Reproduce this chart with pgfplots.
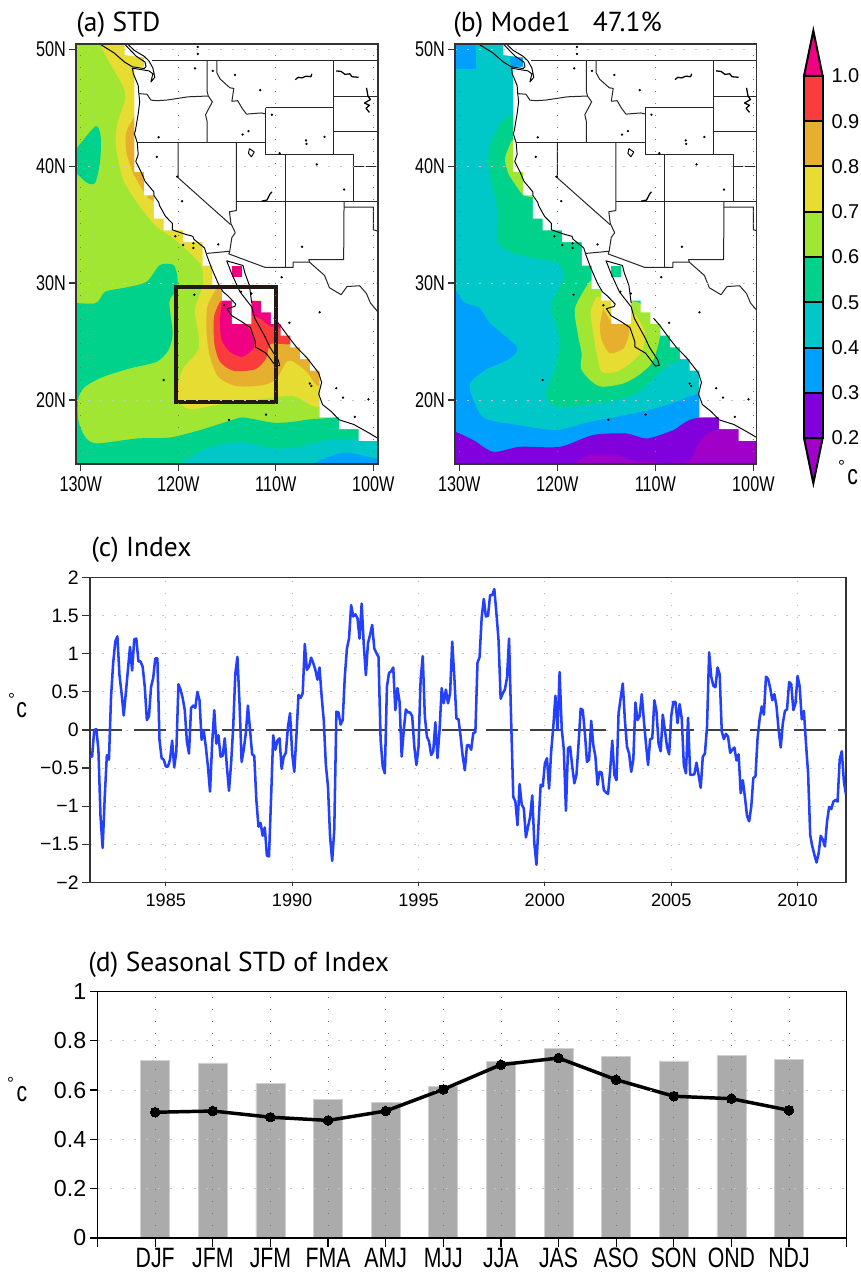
\documentclass[border=0pt]{standalone}
\usepackage{pgfplots}
\pgfplotsset{compat=1.18}
\usepackage{fontspec}
\setmainfont{PT Sans}
\newfontfamily\tickf{Liberation Sans}
\newfontfamily\mapf[FakeStretch=0.76]{Liberation Sans}
\newfontfamily\dtick[FakeStretch=0.76]{Liberation Sans}
\definecolor{cA}{HTML}{A000C8}\definecolor{cB}{HTML}{8200DC}\definecolor{cC}{HTML}{00A0FF}
\definecolor{cD}{HTML}{00C8C8}\definecolor{cE}{HTML}{00D28C}\definecolor{cF}{HTML}{A0E632}
\definecolor{cG}{HTML}{E6DC32}\definecolor{cH}{HTML}{E6AF2D}\definecolor{cI}{HTML}{FA3C3C}
\definecolor{cJ}{HTML}{F00082}\definecolor{frame}{HTML}{333333}\definecolor{boxc}{HTML}{231815}
\definecolor{line}{HTML}{2440FF}\definecolor{barc}{HTML}{ABABAB}
\newcommand\fs[1]{\fontsize{#1}{#1}\selectfont}
\pgfplotsset{
 base/.style={scale only axis,axis on top,clip=true,tick pos=left,
  axis line style={draw=frame,line width=1.1pt},
  tick style={draw=frame,line width=0.9pt},tick align=outside,
  major tick length=5pt,minor tick length=0pt,
  grid=major,
  x grid style={draw=black!55,line width=0.6pt,dash pattern=on 0.8pt off 8.2pt},
  y grid style={draw=black!22,line width=0.6pt,dash pattern=on 1.8pt off 7.2pt},
  scaled ticks=false},
 map/.style={base,width=226.5pt,height=315pt,xmin=-130.48,ymin=14.52,ymax=50.45,
  xtick={-130,-120,-110,-100},xticklabels={130W,120W,110W,100W},
  ytick={20,30,40,50},yticklabels={20N,30N,40N,50N},
  tick label style={font=\mapf\fs{16pt}},
  xticklabel style={yshift=-1pt},yticklabel style={xshift=1pt}},
 zone/.style={fill=#1,draw=none,smooth,tension=0.45,forget plot},
 flat/.style={fill=#1,draw=none,forget plot},
 geo/.style={draw=black,line width=0.72pt,forget plot,line join=round},
 st/.style={draw=black!85,line width=0.75pt,forget plot,line join=round}}
\newcommand\basemap{%
 \addplot[flat=white] coordinates {(-125.5,51) (-125.5,49.5) (-123.5,49.3) (-123.5,48.5) (-124.5,48.5) (-124.5,39.5) (-123.5,39.5) (-123.5,37.5) (-122.5,37.5) (-122.5,35.5) (-121.5,35.5) (-121.5,34.5) (-119.5,34.5) (-119.5,33.5) (-117.5,33.5) (-117.5,31.5) (-116.5,31.5) (-116.5,29.5) (-115.5,29.5) (-115.5,28.5) (-114.5,28.5) (-114.5,26.5) (-112.5,26.5) (-112.5,28.5) (-111.5,28.5) (-111.5,27.5) (-110.5,27.5) (-110.5,26.5) (-109.5,26.5) (-109.5,25.5) (-108.5,25.5) (-108.5,24.5) (-107.5,24.5) (-107.5,23.5) (-106.5,23.5) (-106.5,22.5) (-105.5,22.5) (-105.5,18.5) (-103.5,18.5) (-103.5,17.5) (-101.5,17.5) (-101.5,16.5) (-99,16.5) (-99,51)} --cycle;
}
\newcommand\geolines{%
 % Vancouver Island
 \addplot[geo] coordinates {(-127.95,50.4) (-126.6,49.7) (-125.5,48.9) (-124.7,48.5) (-123.5,48.35) (-123.3,48.5) (-123.4,48.9) (-124.3,49.4) (-125,50) (-125.5,50.45)};
 % coast, Canada to Baja
 \addplot[geo] coordinates {(-125.2,50.45) (-124.5,49.9) (-123.5,49.4) (-123,49) (-122.6,48.4) (-122.4,47.6) (-122.8,47.2) (-122.6,47.9) (-123,48.15) (-124.7,48.38) (-124.6,47.9) (-124.1,46.9) (-124.05,46.3) (-123.95,45.5) (-124.1,44.5) (-124.4,43) (-124.5,42.8) (-124.2,42) (-124.1,41) (-124.35,40.4) (-123.8,39.5) (-123.4,38.7) (-122.5,37.8) (-122.5,37.5) (-122,36.9) (-121.9,36.6) (-121.3,35.7) (-120.6,35.1) (-120.6,34.55) (-119.2,34.15) (-118.5,34) (-118.4,33.75) (-117.3,33) (-117.08,32.39) (-116.57,31.25) (-115.9,29.97) (-115.4,29.25) (-114.9,28.9) (-114.1,28.2) (-114.2,28) (-115,27.8) (-114.5,27.2) (-113.5,26.7) (-112.6,26.2) (-112.1,25) (-112.1,24.54) (-111,24) (-110,22.9) (-109.6,22.95) (-109.74,23.4) (-110.6,24.5) (-111.1,25.4) (-112.14,26.97) (-112.47,27.96) (-113.67,29.25) (-114.52,30.8) (-115.03,31.9) (-113.36,31.5) (-113.16,30.85) (-112.7,29.8) (-112.47,28.3)};
 % coast, Sinaloa to Guerrero
 \addplot[geo] coordinates {(-110.2,27) (-109.57,26.4) (-108.7,25.4) (-107.86,24.5) (-106.8,23.6) (-105.6,22.3) (-105.3,21.5) (-105.6,20.5) (-105.2,19.6) (-104.3,19) (-103.5,18.3) (-102,17.9) (-100.5,17.2) (-99.5,16.7)};
 % borders
 \addplot[st] coordinates {(-122.7,49) (-99,49)};
 \addplot[st] coordinates {(-124,46.2) (-123.2,46.15) (-122.8,45.65) (-122.2,45.6) (-121.2,45.65) (-120,45.8) (-119,45.93) (-116.92,46)};
 \addplot[st] coordinates {(-117.04,49) (-117.04,46.4) (-116.92,46) (-116.5,45.5) (-117.2,44.4) (-117.03,43.8) (-117.03,42)};
 \addplot[st] coordinates {(-124.2,42) (-111.05,42)};
 \addplot[st] coordinates {(-120,42) (-120,39) (-114.63,35)};
 \addplot[st] coordinates {(-114.04,42) (-114.04,36.2) (-114.75,36.1) (-114.6,35.1) (-114.15,34.3) (-114.5,33.9) (-114.72,32.72)};
 \addplot[st] coordinates {(-117.12,32.53) (-114.72,32.72) (-114.81,32.49) (-111.07,31.33) (-108.21,31.33) (-108.21,31.78) (-106.53,31.78) (-105,30.65) (-104.5,29.6) (-103.3,29) (-102.7,29.7) (-101.4,29.77) (-100.7,29.1) (-100.3,28.3) (-99.5,27.5)};
 \addplot[st] coordinates {(-116.05,49) (-116.05,48) (-115.7,47.45) (-114.7,46.7) (-114.3,46.65) (-114.5,45.55) (-113.9,45.6) (-113.45,44.95) (-113,44.45) (-111.5,44.55) (-111.05,44.47)};
 \addplot[st] coordinates {(-111.05,45) (-104.05,45)};
 \addplot[st] coordinates {(-111.05,45) (-111.05,41) (-102.05,41)};
 \addplot[st] coordinates {(-104.05,49) (-104.05,41)};
 \addplot[st] coordinates {(-109.05,41) (-109.05,31.33)};
 \addplot[st] coordinates {(-114.04,37) (-99,37)};
 \addplot[st] coordinates {(-102.05,41) (-102.05,37)};
 \addplot[st] coordinates {(-103,37) (-103.04,32) (-106.62,32) (-106.53,31.78)};
 \addplot[st] coordinates {(-103,36.5) (-100,36.5) (-100,34.56) (-99.4,34.4)};
 \addplot[st] coordinates {(-104.05,45.94) (-99,45.94)};
 \addplot[st] coordinates {(-104.05,43) (-99,43)};
 \addplot[st] coordinates {(-102.05,40) (-99,40)};
 % rivers and lakes
 \addplot[geo,line width=0.95pt] coordinates {(-108,47.4) (-107.7,47.6) (-107.3,47.55) (-106.9,47.7) (-106.4,47.65) (-106.3,47.9)};
 \addplot[geo,line width=0.95pt] coordinates {(-103.8,48.15) (-103.3,48.1) (-102.9,47.85) (-102.4,47.9) (-102.2,47.65) (-101.5,47.6)};
 \addplot[geo,line width=0.95pt] coordinates {(-100.7,46.7) (-100.55,46) (-100.3,45.7) (-100.9,45.4) (-100.4,45.2) (-100.75,44.95) (-100.4,44.6)};
 \addplot[geo,line width=0.95pt] coordinates {(-111.45,37) (-110.9,37.1) (-110.6,37.6) (-110.4,37.8)};
 \addplot[geo] coordinates {(-112.7,41.5) (-112.2,41.2) (-112.5,40.8) (-112.8,41.1) (-112.7,41.5)};
 \addplot[only marks,mark=*,mark size=0.65pt,draw=black,fill=black,forget plot] coordinates {(-118,50.2) (-118,49.6) (-118.28,48.37) (-116.47,48.15) (-114.18,47.8) (-111.6,46.5) (-122,42.47) (-122.2,40.8) (-110.4,44.4) (-112.8,43) (-106.9,42.2) (-106.85,41.9) (-105,42.5) (-113.4,42.7) (-109.6,41.1) (-105.8,40.15) (-103,38) (-120.1,39.1) (-119.6,37) (-115.9,33.3) (-107.3,33.1) (-109.4,30.5) (-105.5,27.5) (-108.6,26.6) (-103.8,21) (-103.1,20.2) (-100.5,20.05) (-101.9,18.55) (-118.35,29) (-115.3,28.1) (-121.5,21.7) (-111,18.75) (-114.8,18.3) (-106.5,21.4) (-106.35,21.2) (-120.3,34) (-119.5,33.25) (-118.45,33) (-118.45,33.4) (-113.57,29.26) (-112.5,29.1)};
}
\begin{document}
\begin{tikzpicture}
\useasboundingbox (0,0) rectangle (645.75pt,954pt);
% ---------------- (a)
\begin{axis}[map,at={(57pt,606pt)},anchor=south west,xmax=-99.52]
 \addplot[flat=cF] coordinates {(-131,14) (-99,14) (-99,51) (-131,51)} --cycle;
 \addplot[zone=cE] coordinates {(-130.9,41) (-128.5,43.4) (-127.95,42.5) (-128,40.5) (-128.5,38.6) (-129.4,38.6) (-130.9,39.8)};
 \addplot[zone=cE] coordinates {(-132,28.4) (-128.53,28.26) (-127.5,29.26) (-125.29,29.63) (-123.24,30.11) (-121.87,31.54) (-120.5,31.54) (-120.09,30.54) (-120.16,29.4) (-120.91,28.4) (-120.57,25.69) (-121.01,24.26) (-122.21,23.27) (-124.94,22.7) (-127.68,21.98) (-129.56,21.13) (-130.24,20.13) (-130.24,18.27) (-129.56,16.85) (-128.36,16.28) (-124.26,16.7) (-120.84,16.79) (-117.77,17.42) (-114.69,18.22) (-113.33,18.5) (-110.25,18.05) (-108.2,18.13) (-105.47,18.4) (-97,18.4) (-97,12) (-132,12)};
 \addplot[zone=cD] coordinates {(-122,13) (-120,14.5) (-117.09,15.85) (-113.67,16.42) (-110.25,15.85) (-107.52,15.99) (-104.79,16.56) (-101.37,16.7) (-97,16.6) (-97,13)};
 \addplot[zone=cC] coordinates {(-108,13.5) (-106.32,14.5) (-103.08,15.48) (-99.56,15) (-97,15) (-97,13)};
 \addplot[zone=cG] coordinates {(-128.5,52) (-128.02,50.46) (-127,48.8) (-125.63,46.8) (-125.46,45.66) (-126.24,43.67) (-126.38,41.67) (-125.63,38.82) (-123.92,36.53) (-122.21,34.82) (-120.5,33.82) (-117.77,31.68) (-117.43,29.97) (-117.6,29.46) (-118.28,27.69) (-117.94,25.69) (-117.94,24.26) (-119.48,22.7) (-120,21.41) (-120,19.99) (-118.79,19.19) (-116.06,19.56) (-110.94,20.13) (-108.2,20.33) (-105.5,19.41) (-103,22) (-108,29) (-115,36) (-122,46) (-124,52)};
 \addplot[zone=cH] coordinates {(-124.26,44.52) (-124.67,44) (-125.35,42.81) (-125.29,41.1) (-124.53,39.24) (-123.17,37.39) (-122.38,37.1) (-122.2,39) (-123.24,41.38) (-124.26,44.52)};
 \addplot[zone=cH] coordinates {(-116.13,29.46) (-117.02,27.97) (-117.09,25.69) (-116.74,23.69) (-115.89,21.98) (-114.01,21.18) (-111.28,21.27) (-109.91,21.84) (-108.89,23.27) (-108.2,23.27) (-106.84,22.41) (-105.5,21.13) (-103.8,22.84) (-109.91,27.12) (-115.04,29.69) (-116.13,29.46)};
 \addplot[zone=cI] coordinates {(-115.72,28.4) (-116.33,27.12) (-116.3,24.84) (-115.72,23.27) (-114.35,22.5) (-112.13,22.61) (-111,23.55) (-110.53,24.78) (-108.54,24.78) (-108.2,25.69) (-110.25,27.12) (-112.3,28.54) (-114.35,28.83) (-115.72,28.4)};
 \addplot[zone=cJ] coordinates {(-115.48,28.46) (-115.72,26.83) (-115.55,25.12) (-114.69,24.12) (-113.5,23.69) (-112.37,24.32) (-112.2,25.12) (-112.99,26.4) (-114.01,26.83) (-114.35,28.54) (-115.48,28.46)};
 \addplot[flat=cJ] coordinates {(-112.47,28.46) (-112.47,27.26) (-111.62,26.98) (-110.49,26.26) (-109.9,26.4) (-109.5,25.98) (-109.5,26.5) (-110.49,27.46) (-111.5,28.46)} --cycle;
 \basemap
 \addplot[flat=cJ] coordinates {(-114.5,31.5) (-113.5,31.5) (-113.5,30.5) (-114.5,30.5)} --cycle;
 \geolines
 \addplot[draw=boxc,line width=2.8pt,line join=miter,forget plot] coordinates {(-120.23,29.69) (-110.01,29.69) (-110.01,19.84) (-120.23,19.84)} --cycle;
\end{axis}
% ---------------- (b)
\begin{axis}[map,at={(341.25pt,606pt)},anchor=south west,width=226.3pt,xmin=-130.44,xmax=-99.66]
 \addplot[flat=cD] coordinates {(-131,14) (-99,14) (-99,51) (-131,51)} --cycle;
 \addplot[flat=cC] coordinates {(-131,51) (-128.3,51) (-128.3,48.29) (-131,48.29)} --cycle;
 \addplot[flat=cC] coordinates {(-124.83,49.37) (-123.47,49.2) (-123.47,48.37) (-124.7,48.5)} --cycle;
 \addplot[zone=cC] coordinates {(-132,30) (-130.44,29.46) (-129.59,28.4) (-127.89,27.83) (-126.87,26.55) (-124.15,24.55) (-124.83,23.55) (-127.38,22.55) (-128.91,21.41) (-128.57,19.99) (-127.38,18.4) (-123.81,17.83) (-120.07,17.42) (-116.67,18.13) (-112.24,18.84) (-108.84,19.56) (-105.61,20.56) (-103,20.8) (-103,12) (-132,12)};
 \addplot[zone=cE] coordinates {(-124.49,44.52) (-125.85,43.67) (-126.87,41.67) (-127.04,39.96) (-126.36,37.39) (-126.02,35.68) (-126.12,33.54) (-124.49,32.54) (-122.11,32.11) (-119.9,31.68) (-119.39,30.54) (-120.07,29.11) (-120.68,27.97) (-119.9,25.69) (-119.9,23.98) (-120.41,22.27) (-121.16,20.41) (-119.9,19.41) (-114.97,19.84) (-111.9,20.56) (-110.2,21.84) (-108.67,22.98) (-107.55,23.41) (-103.4,25.69) (-110.2,31.4) (-118.71,39.96) (-123.81,44.52) (-124.49,44.52)};
 \addplot[zone=cF] coordinates {(-124.66,42.18) (-125.34,40.67) (-125,39.39) (-124.15,38.25) (-123.47,37.53) (-122.45,37.39) (-122.45,38.25) (-123.81,41.95) (-124.66,42.18)};
 \addplot[zone=cF] coordinates {(-116.84,29.97) (-118.2,27.83) (-117.86,25.41) (-117.52,23.98) (-117.59,22.7) (-116.67,21.7) (-115.48,21.13) (-113.27,21.41) (-111.56,22.21) (-110.2,23.41) (-109.46,26.4) (-111.56,28.26) (-112.59,28.54) (-115.99,30.26) (-116.84,29.97)};
 \addplot[zone=cG] coordinates {(-115.99,28.83) (-116.6,27.55) (-116.33,25.69) (-115.99,23.98) (-115.48,22.41) (-113.95,22.41) (-112.59,23.12) (-111.39,24.12) (-111.05,25.69) (-111.9,27.12) (-113.6,28.54) (-115.99,28.83)};
 \addplot[zone=cH] coordinates {(-115.31,27.83) (-115.65,26.4) (-115.48,25.12) (-114.63,23.98) (-113.27,24.41) (-112.76,25.41) (-112.76,26.4) (-114.46,26.69) (-115.31,27.83)};
 \addplot[zone=cB] coordinates {(-133,17.9) (-130.44,17.28) (-128.57,16.56) (-126.53,15.56) (-123.81,15.99) (-119.73,15.99) (-116.33,17) (-112.93,17.13) (-110.88,16.7) (-108.16,17.42) (-105.61,18.47) (-97,18.47) (-97,12) (-133,12)};
 \addplot[zone=cA] coordinates {(-120.5,13.5) (-118.54,14.48) (-116.67,15.28) (-113.95,15.28) (-111.56,14.71) (-106.8,14.71) (-105.78,15.99) (-104.42,17.28) (-101.7,17.42) (-97,16.56) (-97,13)};
 \basemap
 \addplot[flat=cE] coordinates {(-114.5,31.5) (-113.5,31.5) (-113.5,30.5) (-114.5,30.5)} --cycle;
 \geolines
\end{axis}
% ---------------- colour bar
\begin{axis}[scale only axis,at={(603pt,591pt)},anchor=south west,width=14pt,height=340.5pt,
  xmin=0,xmax=1,ymin=0.0985,ymax=1.1015,clip=false,
  axis x line=none,axis y line=right,y axis line style={draw=none},ytick style={draw=none},
  ytick={0.2,0.3,0.4,0.5,0.6,0.7,0.8,0.9,1.0},
  yticklabels={0.2,0.3,0.4,0.5,0.6,0.7,0.8,0.9,1.0},
  yticklabel style={font=\tickf\fs{15pt},xshift=1pt}]
 \addplot[fill=cJ,draw=black,line width=1.5pt,forget plot] coordinates {(0,1) (0.5,1.1) (1,1)} --cycle;
 \addplot[fill=cI,draw=black,line width=1.5pt,forget plot] coordinates {(0,.9) (1,.9) (1,1) (0,1)} --cycle;
 \addplot[fill=cH,draw=black,line width=1.5pt,forget plot] coordinates {(0,.8) (1,.8) (1,.9) (0,.9)} --cycle;
 \addplot[fill=cG,draw=black,line width=1.5pt,forget plot] coordinates {(0,.7) (1,.7) (1,.8) (0,.8)} --cycle;
 \addplot[fill=cF,draw=black,line width=1.5pt,forget plot] coordinates {(0,.6) (1,.6) (1,.7) (0,.7)} --cycle;
 \addplot[fill=cE,draw=black,line width=1.5pt,forget plot] coordinates {(0,.5) (1,.5) (1,.6) (0,.6)} --cycle;
 \addplot[fill=cD,draw=black,line width=1.5pt,forget plot] coordinates {(0,.4) (1,.4) (1,.5) (0,.5)} --cycle;
 \addplot[fill=cC,draw=black,line width=1.5pt,forget plot] coordinates {(0,.3) (1,.3) (1,.4) (0,.4)} --cycle;
 \addplot[fill=cB,draw=black,line width=1.5pt,forget plot] coordinates {(0,.2) (1,.2) (1,.3) (0,.3)} --cycle;
 \addplot[fill=cA,draw=black,line width=1.5pt,forget plot] coordinates {(0,.2) (1,.2) (0.5,.1)} --cycle;
\end{axis}
% ---------------- (c)
\begin{axis}[base,axis on top=false,at={(67.5pt,292.3pt)},anchor=south west,width=567pt,height=228.45pt,
  xmin=0,xmax=359,ymin=-2,ymax=2,
  xtick={36,96,156,216,276,336},xticklabels={1985,1990,1995,2000,2005,2010},
  ytick={-2,-1.5,-1,-0.5,0,0.5,1,1.5,2},yticklabels={−2,−1.5,−1,−0.5,0,0.5,1,1.5,2},
  x grid style={draw=black!30,line width=0.6pt,dash pattern=on 0.8pt off 8.2pt},
  xtick style={/pgfplots/major tick length=3pt},ytick style={/pgfplots/major tick length=6pt},
  xticklabel style={font=\tickf\fs{13.6pt}},yticklabel style={font=\tickf\fs{14.6pt},xshift=0pt}]
 \addplot[draw=black!75,line width=0.9pt,dash pattern=on 24pt off 9pt,forget plot] coordinates {(0,0) (359,0)};
 \addplot[draw=line,line width=1.9pt,line join=round,forget plot] table[row sep=\\,header=false,x expr=\coordindex,y index=0] {
 -0.35\\-0.35\\0\\0.01\\-0.26\\-1.14\\-1.55\\-0.88\\-0.33\\-0.39\\0.44\\0.88\\
 1.16\\1.23\\0.72\\0.48\\0.19\\0.48\\0.79\\1.09\\0.78\\1.19\\1.2\\0.9\\
 0.9\\0.83\\0.57\\0.13\\0.18\\0.57\\0.68\\0.94\\0.94\\-0.13\\-0.37\\-0.39\\
 -0.48\\-0.48\\-0.39\\-0.14\\-0.49\\-0.28\\0.6\\0.53\\0.42\\0.26\\-0.15\\-0.31\\
 0.29\\0.32\\0.29\\0.5\\0.39\\-0.13\\-0.01\\-0.22\\-0.48\\-0.81\\-0.18\\0.26\\
 -0.18\\-0.07\\-0.35\\-0.34\\-0.11\\-0.48\\-0.8\\-0.44\\0.04\\0.74\\0.96\\0.35\\
 -0.42\\-0.26\\-0.04\\0.32\\0\\-0.32\\-0.34\\-0.92\\-1.27\\-1.22\\-1.39\\-1.28\\
 -1.65\\-1.66\\-0.88\\-0.07\\-0.26\\-0.14\\-0.11\\-0.51\\-0.35\\-0.3\\0.04\\0.22\\
 -0.31\\-0.55\\-0.09\\0.46\\0.42\\0.48\\1.13\\0.79\\0.83\\0.95\\0.88\\0.79\\
 0.66\\0.82\\0.44\\0.13\\-0.46\\-0.74\\-1.4\\-1.72\\-1.31\\0.24\\0.23\\0.07\\
 0.13\\0.7\\1.07\\1.2\\1.64\\1.49\\1.52\\1.47\\1.2\\1.66\\1.12\\0.72\\
 1.14\\1.25\\1.38\\1.07\\1.01\\0.96\\-0.13\\-0.48\\-0.57\\0.57\\0.75\\0.77\\
 0.82\\0.26\\0.55\\0.37\\-0.35\\0\\0.27\\0.23\\0.23\\0.18\\-0.22\\-0.46\\
 -0.22\\0.66\\0.97\\0.18\\-0.09\\-0.15\\-0.33\\-0.28\\0.1\\-0.37\\0\\0.55\\
 0.35\\0.53\\0.35\\0.48\\1.16\\0.7\\0.15\\0.14\\-0.09\\-0.35\\-0.53\\-0.2\\
 -0.2\\-0.26\\-0.04\\-0.03\\0.88\\0.96\\1.48\\1.72\\1.49\\1.5\\1.77\\1.77\\
 1.85\\1.53\\1.18\\0.41\\0.48\\0.53\\0.68\\1.2\\0.11\\-0.88\\-0.94\\-1.25\\
 -0.71\\-0.98\\-1.03\\-1.41\\-1.27\\-1.14\\-0.86\\-1.49\\-1.77\\-1.23\\-0.72\\-0.74\\
 -0.44\\-0.37\\-0.77\\-0.28\\0.04\\0.45\\0\\0.76\\0.02\\-0.26\\-1.06\\-0.24\\
 -0.22\\-0.48\\-0.7\\-0.59\\-0.18\\0.28\\0.26\\-0.04\\-0.42\\-0.39\\0.12\\-0.2\\
 -0.35\\-0.72\\-0.55\\-0.56\\-0.79\\-0.82\\-0.84\\-0.53\\-0.14\\-0.59\\-0.66\\0.22\\
 0.42\\0.61\\0.13\\-0.22\\-0.31\\-0.55\\-0.39\\0.36\\0.13\\0.18\\0.47\\0.13\\
 -0.18\\-0.46\\-0.12\\-0.11\\0.39\\0.24\\-0.18\\-0.28\\0.2\\0\\-0.22\\-0.32\\
 0.18\\0.37\\0.37\\0.09\\0.34\\0.15\\-0.46\\-0.57\\0.16\\-0.59\\-0.59\\-0.58\\
 -0.43\\-0.59\\-0.76\\-0.35\\-0.31\\0.04\\1.02\\0.7\\0.58\\0.56\\0.82\\0.73\\
 -0.02\\-0.12\\-0.05\\-0.09\\-0.3\\-0.26\\-0.23\\-0.4\\-0.32\\-0.83\\-0.66\\-0.88\\
 -1.13\\-1.2\\-1.01\\-0.63\\-0.61\\-0.11\\0.15\\0.31\\0.2\\0.7\\0.67\\0.55\\
 0.39\\0.47\\0.31\\0\\-0.23\\0.09\\0.25\\0.27\\0.63\\0.6\\0.26\\0.35\\
 0.71\\0.57\\0.14\\0.25\\-0.18\\-0.57\\-1.38\\-1.53\\-1.64\\-1.74\\-1.62\\-1.39\\
 -1.44\\-1.53\\-1.2\\-1.01\\-1.04\\-0.94\\-0.92\\-0.94\\-0.39\\-0.28\\-0.68\\-0.85\\
 };
\end{axis}
% ---------------- (d)
\begin{axis}[base,at={(73.2pt,25.5pt)},anchor=south west,width=561.8pt,height=184.9pt,
  xmin=0,xmax=13,ymin=0,ymax=1,
  xtick={0,1,2,3,4,5,6,7,8,9,10,11,12,13},
  xticklabels={,DJF,JFM,JFM,FMA,AMJ,MJJ,JJA,JAS,ASO,SON,OND,NDJ,},
  ytick={0,0.2,0.4,0.6,0.8,1},yticklabels={0,0.2,0.4,0.6,0.8,1},
  axis line style={draw=black,line width=0.9pt},
  xtick style={draw=black,/pgfplots/major tick length=6.75pt},ytick style={draw=black,/pgfplots/major tick length=6pt},
  xticklabel style={font=\dtick\fs{21pt},yshift=1pt},yticklabel style={font=\tickf\fs{17.4pt}}]
 \addplot[ybar,bar width=21.75pt,fill=barc,draw=black!18,line width=0.6pt,forget plot] coordinates {(1,.72) (2,.71) (3,.628) (4,.562) (5,.55) (6,.615) (7,.715) (8,.77) (9,.737) (10,.718) (11,.74) (12,.725)};
 \addplot[draw=black,line width=2.6pt,mark=*,mark size=3.6pt,mark options={fill=black,draw=black,line width=0pt},forget plot] coordinates {(1,.51) (2,.515) (3,.49) (4,.477) (5,.515) (6,.603) (7,.703) (8,.73) (9,.642) (10,.575) (11,.565) (12,.518)};
\end{axis}
% ---------------- texts (image pixels)
\begin{scope}[x=0.75pt,y=-0.75pt,shift={(0pt,954pt)}]
 \node[anchor=west,inner sep=0pt] at (76,25) {\fs{20.6pt}(a) STD};
 \node[anchor=west,inner sep=0pt] at (453,25) {\fs{20.6pt}(b) Mode1\ \ \ 47.1\%};
 \node[anchor=west,inner sep=0pt] at (91,550) {\fs{20.6pt}(c) Index};
 \node[anchor=west,inner sep=0pt] at (88,965) {\fs{20.6pt}(d) Seasonal STD of Index};
 \node[inner sep=0pt] at (11.7,699) {\tickf\fs{13pt}°};
 \node[inner sep=0pt] at (21.7,710) {\dtick\fs{21pt}c};
 \node[inner sep=0pt] at (10.5,1083) {\tickf\fs{13pt}°};
 \node[inner sep=0pt] at (22,1094) {\dtick\fs{21pt}c};
 \node[inner sep=0pt] at (841.7,466) {\tickf\fs{13pt}°};
 \node[inner sep=0pt] at (852.7,477) {\dtick\fs{21pt}c};
\end{scope}
\end{tikzpicture}
\end{document}
